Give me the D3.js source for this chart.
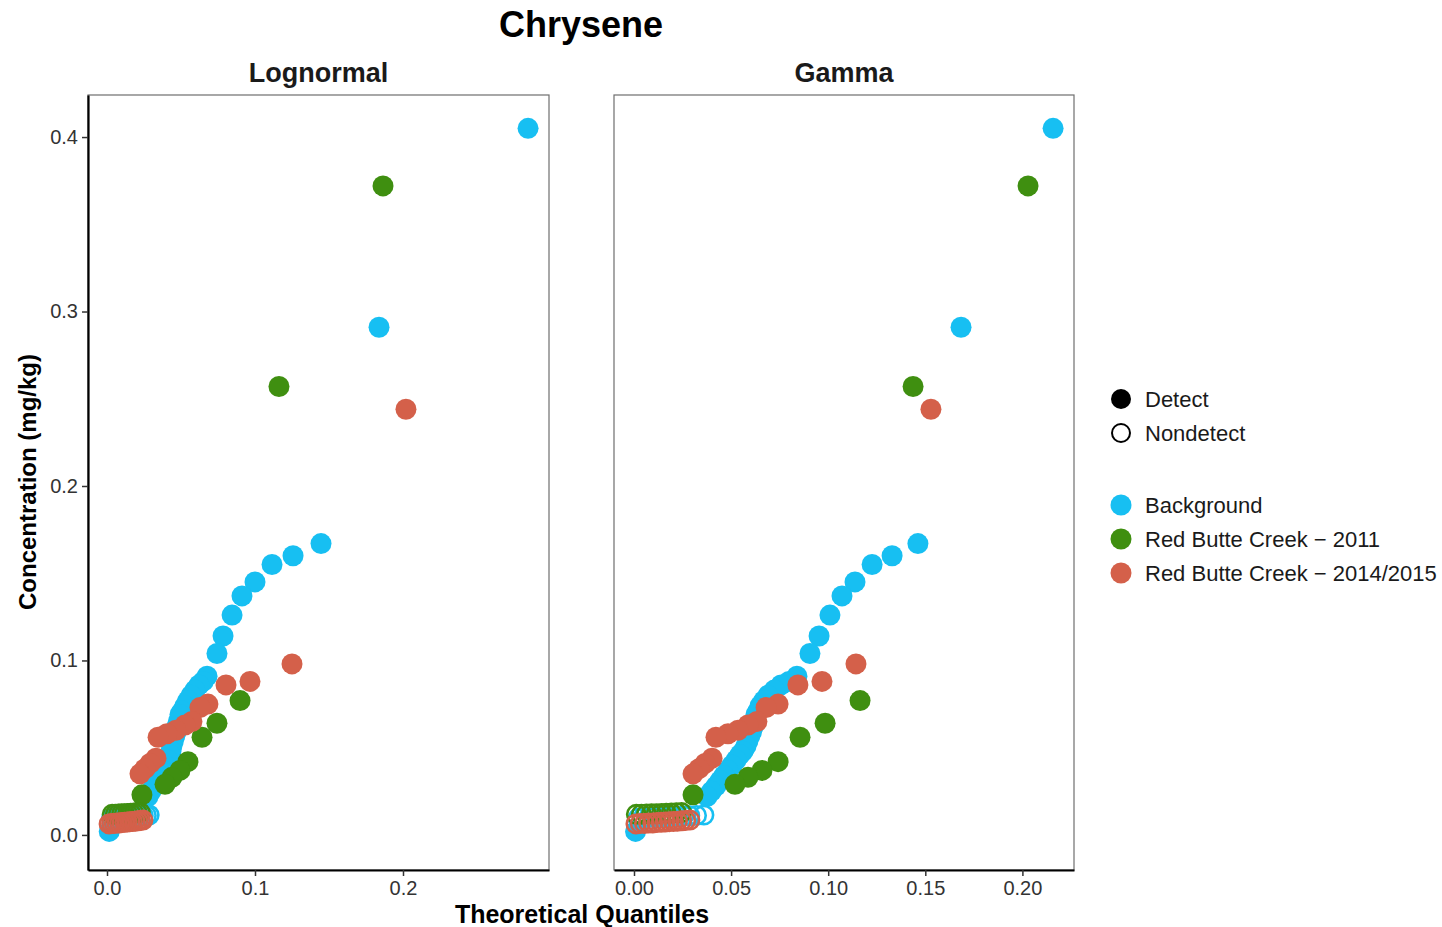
<!DOCTYPE html>
<html>
<head>
<meta charset="utf-8">
<script src="https://cdn.jsdelivr.net/npm/d3@7"></script>
<style>
  html, body { margin: 0; padding: 0; background: #ffffff; }
  svg { display: block; font-family: "Liberation Sans", Arial, sans-serif; }
</style>
</head>
<body>
<svg id="chart" width="1442" height="927"></svg>
<script>
// ---------------- DATA ----------------
const chartTitle = "Chrysene";
const panelTitles = ["Lognormal", "Gamma"];
const xAxisTitle = "Theoretical Quantiles";
const yAxisTitle = "Concentration (mg/kg)";
const seriesNames = ["Background", "Red Butte Creek - 2011", "Red Butte Creek - 2014/2015"];
const detectNames = ["Detect", "Nondetect"];

const yTicks = [0.0, 0.1, 0.2, 0.3, 0.4];
const xTicksLognormal = [0.0, 0.1, 0.2];
const xTicksGamma = [0.00, 0.05, 0.10, 0.15, 0.20];

// Background
const bgConc = [0.405, 0.291, 0.167, 0.160, 0.155, 0.145, 0.137, 0.126, 0.114, 0.104,
  0.091, 0.088, 0.086, 0.083, 0.080, 0.077, 0.074, 0.071, 0.069, 0.065, 0.062, 0.059, 0.057, 0.054, 0.051,
  0.048, 0.046, 0.043, 0.040, 0.037, 0.034, 0.031, 0.028, 0.025, 0.022,
  0.0114, 0.0112, 0.0110, 0.0109, 0.0107, 0.0106, 0.0104, 0.0103, 0.0101, 0.0100, 0.0098, 0.0095,
  0.002];
const bgQLognormal = [0.2845, 0.1838, 0.1446, 0.1257, 0.1115, 0.1000, 0.0912, 0.0845, 0.0784, 0.0743,
  0.0676, 0.0650, 0.0622, 0.0594, 0.0568, 0.0546, 0.0527, 0.0508, 0.0493, 0.0482, 0.0473, 0.0466, 0.0459, 0.0449, 0.0439,
  0.0432, 0.0426, 0.0410, 0.0392, 0.0376, 0.0358, 0.0338, 0.0318, 0.0297, 0.0277,
  0.0285, 0.0266, 0.0245, 0.0222, 0.0196, 0.0171, 0.0147, 0.0121, 0.0098, 0.0072, 0.0050, 0.0030,
  0.0015];
const bgQGamma = [0.2158, 0.1684, 0.1462, 0.1329, 0.1226, 0.1138, 0.1071, 0.1009, 0.0953, 0.0906,
  0.0839, 0.0798, 0.0757, 0.0722, 0.0690, 0.0668, 0.0649, 0.0638, 0.0628, 0.0620, 0.0613, 0.0605, 0.0597, 0.0587, 0.0577,
  0.0562, 0.0546, 0.0526, 0.0505, 0.0484, 0.0463, 0.0443, 0.0422, 0.0399, 0.0376,
  0.0360, 0.0322, 0.0287, 0.0256, 0.0224, 0.0196, 0.0166, 0.0134, 0.0106, 0.0076, 0.0046, 0.0020,
  0.0008];
const bgDetect = [1,1,1,1,1,1,1,1,1,1, 1,1,1,1,1,1,1,1,1,1,1,1,1,1,1, 1,1,1,1,1,1,1,1,1,1,
  0,0,0,0,0,0,0,0,0,0,0,0, 1];

// Red Butte Creek - 2011
const rbc11Conc = [0.372, 0.257, 0.077, 0.064, 0.056, 0.042, 0.037, 0.033, 0.029, 0.023,
  0.0128, 0.0127, 0.0125, 0.0124, 0.0123, 0.0122, 0.0121, 0.0120, 0.0119, 0.0118];
const rbc11QLognormal = [0.1865, 0.1162, 0.0899, 0.0743, 0.0642, 0.0547, 0.0493, 0.0439, 0.0392, 0.0236,
  0.0225, 0.0204, 0.0182, 0.0160, 0.0139, 0.0118, 0.0098, 0.0077, 0.0056, 0.0035];
const rbc11QGamma = [0.2029, 0.1437, 0.1164, 0.0984, 0.0855, 0.0742, 0.0659, 0.0587, 0.0520, 0.0304,
  0.0245, 0.0218, 0.0192, 0.0166, 0.0141, 0.0115, 0.0090, 0.0064, 0.0038, 0.0012];
const rbc11Detect = [1,1,1,1,1,1,1,1,1,1, 0,0,0,0,0,0,0,0,0,0];

// Red Butte Creek - 2014/2015
const rbc1415Conc = [0.244, 0.098, 0.088, 0.086, 0.075, 0.073, 0.065, 0.063, 0.060, 0.058, 0.056,
  0.044, 0.041, 0.038, 0.035,
  0.0085, 0.0083, 0.0081, 0.0079, 0.0077, 0.0076, 0.0074, 0.0072, 0.0071, 0.0069, 0.0068, 0.0066, 0.0065, 0.0063];
const rbc1415QLognormal = [0.2020, 0.1250, 0.0966, 0.0804, 0.0682, 0.0628, 0.0574, 0.0527, 0.0466, 0.0405, 0.0345,
  0.0331, 0.0291, 0.0257, 0.0223,
  0.0243, 0.0226, 0.0208, 0.0190, 0.0172, 0.0155, 0.0137, 0.0119, 0.0101, 0.0084, 0.0066, 0.0049, 0.0031, 0.0014];
const rbc1415QGamma = [0.1529, 0.1143, 0.0968, 0.0844, 0.0742, 0.0680, 0.0633, 0.0587, 0.0536, 0.0484, 0.0422,
  0.0402, 0.0366, 0.0335, 0.0304,
  0.0288, 0.0266, 0.0245, 0.0224, 0.0203, 0.0182, 0.0161, 0.0140, 0.0118, 0.0097, 0.0075, 0.0054, 0.0032, 0.0010];
const rbc1415Detect = [1,1,1,1,1,1,1,1,1,1,1, 1,1,1,1, 0,0,0,0,0,0,0,0,0,0,0,0,0,0];

const seriesColors = ["#17bff2", "#3f8f10", "#d4604a"];

// ---------------- BUILD ----------------
function build(name, conc, qL, qG, det) {
  return conc.map((c, i) => ({ series: name, conc: c, qL: qL[i], qG: qG[i], detect: det[i] === 1 }));
}
const allPoints = [
  ...build(seriesNames[0], bgConc, bgQLognormal, bgQGamma, bgDetect),
  ...build(seriesNames[1], rbc11Conc, rbc11QLognormal, rbc11QGamma, rbc11Detect),
  ...build(seriesNames[2], rbc1415Conc, rbc1415QLognormal, rbc1415QGamma, rbc1415Detect)
];
const color = d3.scaleOrdinal().domain(seriesNames).range(seriesColors);

const svg = d3.select("#chart");
const plotTop = 95, plotBottom = 870;
const y = d3.scaleLinear().domain([-0.0201, 0.4241]).range([plotBottom, plotTop]);

const panels = [
  { title: panelTitles[0], key: "qL", x: d3.scaleLinear().domain([-0.01284, 0.29865]).range([88, 549]),
    ticks: xTicksLognormal, fmt: d3.format(".1f"), yAxis: true },
  { title: panelTitles[1], key: "qG", x: d3.scaleLinear().domain([-0.01030, 0.22657]).range([614, 1074]),
    ticks: xTicksGamma, fmt: d3.format(".2f"), yAxis: false }
];
const R = 10.5;

panels.forEach(p => {
  const [x0, x1] = p.x.range();
  const g = svg.append("g");
  g.append("rect").attr("x", x0).attr("y", plotTop).attr("width", x1 - x0).attr("height", plotBottom - plotTop)
    .attr("fill", "none").attr("stroke", "#6e6e6e").attr("stroke-width", 1.2);

  const clipId = "clip-" + p.key;
  svg.append("clipPath").attr("id", clipId).append("rect")
    .attr("x", x0).attr("y", plotTop).attr("width", x1 - x0).attr("height", plotBottom - plotTop);
  const pg = g.append("g").attr("clip-path", `url(#${clipId})`);
  pg.selectAll("circle").data(allPoints).enter().append("circle")
    .attr("cx", d => p.x(d[p.key]))
    .attr("cy", d => y(d.conc))
    .attr("r", d => d.detect ? R : R - 1.3)
    .attr("fill", d => d.detect ? color(d.series) : "none")
    .attr("stroke", d => d.detect ? "none" : color(d.series))
    .attr("stroke-width", d => d.detect ? 0 : 2.6);

  const xa = g.append("g").attr("transform", `translate(0,${plotBottom})`)
    .call(d3.axisBottom(p.x).tickValues(p.ticks).tickFormat(p.fmt).tickSize(6).tickSizeOuter(0));
  xa.select(".domain").attr("stroke", "#000").attr("stroke-width", 2.2);
  xa.selectAll(".tick line").attr("stroke", "#333").attr("stroke-width", 1.5);
  xa.selectAll(".tick text").attr("font-size", 20).attr("fill", "#333").attr("dy", "0.8em")
    .attr("font-family", "Liberation Sans, Arial, sans-serif");

  if (p.yAxis) {
    const ya = g.append("g").attr("transform", `translate(${x0},0)`)
      .call(d3.axisLeft(y).tickValues(yTicks).tickFormat(d3.format(".1f")).tickSize(6).tickSizeOuter(0));
    ya.select(".domain").attr("stroke", "#000").attr("stroke-width", 2.2);
    ya.selectAll(".tick line").attr("stroke", "#333").attr("stroke-width", 1.5);
    ya.selectAll(".tick text").attr("font-size", 20).attr("fill", "#333").attr("x", -10)
      .attr("font-family", "Liberation Sans, Arial, sans-serif");
  }

  g.append("text").attr("x", (x0 + x1) / 2).attr("y", 82).attr("text-anchor", "middle")
    .attr("font-size", 27).attr("font-weight", "bold").attr("fill", "#1a1a1a").text(p.title);
});

svg.append("text").attr("x", 581).attr("y", 37).attr("text-anchor", "middle")
  .attr("font-size", 36).attr("font-weight", "bold").attr("fill", "#000").text(chartTitle);

svg.append("text").attr("x", 582).attr("y", 923).attr("text-anchor", "middle")
  .attr("font-size", 25).attr("font-weight", "bold").attr("fill", "#000").text(xAxisTitle);
svg.append("text").attr("transform", "translate(36,482) rotate(-90)").attr("text-anchor", "middle")
  .attr("font-size", 24).attr("font-weight", "bold").attr("fill", "#000").text(yAxisTitle);

const lg = svg.append("g");
const lx = 1121, tx = 1145;
const detY = [399, 433];
detectNames.forEach((n, i) => {
  lg.append("circle").attr("cx", lx).attr("cy", detY[i]).attr("r", i === 0 ? 10 : 9)
    .attr("fill", i === 0 ? "#000" : "none").attr("stroke", i === 0 ? "none" : "#000").attr("stroke-width", 2);
  lg.append("text").attr("x", tx).attr("y", detY[i]).attr("dy", "0.35em").attr("font-size", 22)
    .attr("fill", "#1a1a1a").text(n);
});
const serY = [505, 539, 573];
seriesNames.forEach((n, i) => {
  lg.append("circle").attr("cx", lx).attr("cy", serY[i]).attr("r", 10.5).attr("fill", color(n));
  lg.append("text").attr("x", tx).attr("y", serY[i]).attr("dy", "0.35em").attr("font-size", 22)
    .attr("fill", "#1a1a1a").text(n.replace(" - ", " \u2212 "));
});
</script>
</body>
</html>
